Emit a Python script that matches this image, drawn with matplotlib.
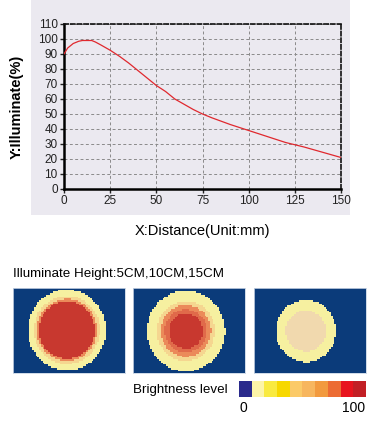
import numpy as np
import matplotlib
matplotlib.use("Agg")
import matplotlib.pyplot as plt
from matplotlib.colors import ListedColormap

plt.rcParams['font.family'] = ['Liberation Sans', 'DejaVu Sans']

# ---- line chart data ----
distance = [0, 2, 5, 8, 10, 13, 15, 17, 20, 25, 30, 35, 40, 45, 50, 55, 60, 65, 70, 75,
            80, 90, 100, 110, 120, 125, 130, 140, 150]
illuminate = [90, 94, 97, 98.5, 99, 99, 99, 98, 96, 92.5, 88.5, 84, 79, 74, 69, 65, 60, 56.5, 53, 50,
              47.5, 43, 39, 35, 31, 29.5, 28, 24.5, 21]
x_ticks = [0, 25, 50, 75, 100, 125, 150]
y_ticks = [0, 10, 20, 30, 40, 50, 60, 70, 80, 90, 100, 110]

# ---- heat map data (ring radii in panel pixels, ring colour index) ----
panel_colors = ['#0b3b7a', '#f6f0a0', '#f5d690', '#eb8a5a', '#e06a4a', '#c8382f', '#f1d9ae']
panel1_radii = [39, 33, 30, 28]
panel1_levels = [1, 2, 3, 5]
panel2_radii = [39, 29, 25, 21, 17]
panel2_levels = [1, 2, 3, 4, 5]
panel3_radii = [30, 20]
panel3_levels = [1, 6]
panel_centers = [(54, 42), (53, 43), (52, 43)]
panel_titles = "Illuminate Height:5CM,10CM,15CM"

# ---- brightness legend ----
legend_colors = ['#2a2a8c', '#fcf4a8', '#f9ea40', '#f7d800', '#fbca68', '#f7b65e',
                 '#f29a3e', '#ec6c34', '#e8141e', '#c21f25']
legend_labels = ['0', '100']

W, H = 377, 433
fig = plt.figure(figsize=(W / 100, H / 100), dpi=100)

def fx(px):
    return px / W

def fy(py):
    return 1 - py / H

# marble-like background panel
bg = fig.add_axes([fx(31), fy(215), fx(319), 215 / H])
bg.set_facecolor('#ebe9f0')
bg.set_xticks([]); bg.set_yticks([])
for s in bg.spines.values():
    s.set_visible(False)

ax = fig.add_axes([fx(64), fy(189), fx(277), (189 - 24) / H])
ax.patch.set_alpha(0)
ax.plot(distance, illuminate, color='#e0282e', lw=0.9, zorder=3)
ax.set_xlim(0, 150)
ax.set_ylim(0, 110)
ax.set_xticks(x_ticks)
ax.set_yticks(y_ticks)
ax.tick_params(labelsize=8.5, length=3, width=1.0, pad=1.5, colors='#222222')
ax.grid(True, color='#8a8a8a', ls=(0, (3, 2.5)), lw=0.7)
for side in ['left', 'bottom']:
    ax.spines[side].set_linewidth(1.8)
    ax.spines[side].set_color('#000000')
for side in ['top', 'right']:
    ax.spines[side].set_linestyle((0, (2.5, 1.5)))
    ax.spines[side].set_linewidth(1.2)
    ax.spines[side].set_color('#111111')
ax.set_xlabel('X:Distance(Unit:mm)', fontsize=10.5, labelpad=12)
ax.set_ylabel('Y:Illuminate(%)', fontsize=10.5, labelpad=10, fontweight='bold')

fig.text(fx(13), fy(274), panel_titles, fontsize=9.6, va='center', ha='left')

cmap = ListedColormap(panel_colors)
panels = [(panel1_radii, panel1_levels), (panel2_radii, panel2_levels), (panel3_radii, panel3_levels)]
lefts = [13, 133, 254]
pw, ph = 112, 85
cell = 1.75
nx, ny = int(round(pw / cell)), int(round(ph / cell))
xc = (np.arange(nx) + 0.5) * pw / nx
yc = (np.arange(ny) + 0.5) * ph / ny
XX, YY = np.meshgrid(xc, yc)
for (radii, levels), left, (cx, cy) in zip(panels, lefts, panel_centers):
    pax = fig.add_axes([fx(left), fy(373), fx(pw), ph / H])
    R = np.hypot(XX - cx, (YY - cy) * 0.97)
    grid = np.zeros_like(R, dtype=int)
    for r, lv in zip(radii, levels):
        grid[R <= r] = lv
    pax.imshow(grid, cmap=cmap, vmin=-0.5, vmax=len(panel_colors) - 0.5,
               extent=[0, pw, ph, 0], interpolation='nearest', aspect='auto')
    pax.set_xticks([]); pax.set_yticks([])
    for s in pax.spines.values():
        s.set_color('#c8d4e4')
        s.set_linewidth(0.6)

fig.text(fx(133), fy(390), 'Brightness level', fontsize=9.6, va='center', ha='left')
cax = fig.add_axes([fx(239), fy(397), fx(126), 16 / H])
cax.imshow(np.arange(len(legend_colors))[None, :], cmap=ListedColormap(legend_colors),
           aspect='auto', interpolation='nearest', extent=[0, len(legend_colors), 0, 1])
cax.set_xticks([]); cax.set_yticks([])
for s in cax.spines.values():
    s.set_visible(False)
fig.text(fx(243), fy(408), legend_labels[0], fontsize=10, va='center', ha='center')
fig.text(fx(354), fy(408), legend_labels[1], fontsize=10, va='center', ha='center')

fig.savefig('out.png', dpi=100)
